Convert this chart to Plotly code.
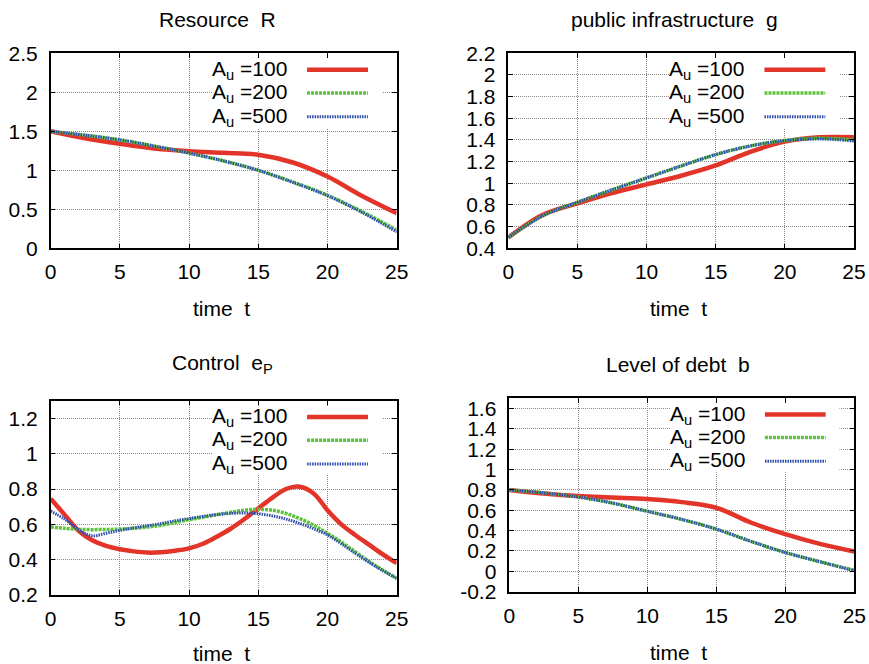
import plotly.graph_objects as go

# ---------------- data ----------------
t_R = [0, 2.5, 5, 7.5, 10, 12.5, 15, 17.5, 20, 22.5, 25]
R_100 = [1.50, 1.41, 1.34, 1.28, 1.245, 1.225, 1.20, 1.10, 0.92, 0.67, 0.45]
R_200 = [1.50, 1.45, 1.39, 1.31, 1.22, 1.12, 1.00, 0.85, 0.68, 0.47, 0.235]
R_500 = [1.50, 1.45, 1.39, 1.31, 1.22, 1.12, 1.00, 0.845, 0.675, 0.46, 0.21]

t_g = [0, 2.5, 5, 7.5, 10, 12.5, 15, 17.5, 20, 22.5, 25]
g_100 = [0.50, 0.71, 0.815, 0.91, 0.99, 1.07, 1.165, 1.29, 1.385, 1.425, 1.425]
g_200 = [0.50, 0.70, 0.825, 0.94, 1.05, 1.16, 1.265, 1.345, 1.395, 1.415, 1.40]
g_500 = [0.50, 0.70, 0.825, 0.94, 1.05, 1.16, 1.265, 1.345, 1.395, 1.41, 1.39]

t_e = list(range(0, 26))
e_100 = [0.745, 0.655, 0.565, 0.51, 0.478, 0.459, 0.447, 0.44, 0.442, 0.451, 0.464,
         0.49, 0.53, 0.575, 0.63, 0.69, 0.75, 0.80, 0.813, 0.775, 0.68,
         0.60, 0.54, 0.485, 0.43, 0.38]
e_200 = [0.585, 0.578, 0.572, 0.57, 0.571, 0.573, 0.578, 0.585, 0.595, 0.61, 0.627,
         0.64, 0.655, 0.668, 0.68, 0.685, 0.68, 0.662, 0.632, 0.595, 0.549,
         0.50, 0.445, 0.39, 0.34, 0.295]
e_500 = [0.675, 0.63, 0.57, 0.535, 0.55, 0.566, 0.58, 0.592, 0.605, 0.62, 0.633,
         0.645, 0.655, 0.662, 0.664, 0.66, 0.648, 0.63, 0.605, 0.575, 0.54,
         0.49, 0.436, 0.385, 0.338, 0.294]

t_b = [0, 2.5, 5, 7.5, 10, 12.5, 15, 17.5, 20, 22.5, 25]
b_100 = [0.80, 0.765, 0.74, 0.725, 0.71, 0.68, 0.625, 0.48, 0.365, 0.27, 0.195]
b_200 = [0.80, 0.77, 0.73, 0.67, 0.59, 0.51, 0.415, 0.295, 0.185, 0.095, 0.01]
b_500 = [0.80, 0.77, 0.73, 0.67, 0.59, 0.51, 0.415, 0.295, 0.185, 0.095, 0.005]

series_names = ["A<sub>u</sub> =100", "A<sub>u</sub> =200", "A<sub>u</sub> =500"]
panel_titles = ["Resource\u00a0\u00a0R", "public infrastructure\u00a0\u00a0g",
                "Control\u00a0\u00a0e<sub>P</sub>", "Level of debt\u00a0\u00a0b"]
xlabel = "time\u00a0\u00a0t"
x_ticks = [0, 5, 10, 15, 20, 25]
b_tickvals = [-0.2, 0, 0.2, 0.4, 0.6, 0.8, 1, 1.2, 1.4, 1.6]
b_ticktext = ["-0.2", "0", "0.2", "0.4", "0.6", "0.8", "1", "1.2", "1.4", "1.6"]

# ---------------- style ----------------
W, H = 869, 664
FONT = "Liberation Sans, Arial, sans-serif"
FS = 21
styles = [
    dict(color="#E3342A", width=4.5, dash="solid"),
    dict(color="#5CC23A", width=3.5, dash="3px,1px"),
    dict(color="#2D4DAF", width=3.0, dash="1.5px,1px"),
]

def px2x(p):
    return p / W

def px2y(p):
    return 1 - p / H

# plot areas in pixels: (left, right, top, bottom)
boxes = [(50.7, 396.7, 53.3, 248.3), (508.3, 854.0, 53.3, 248.3),
         (50.7, 396.7, 400.7, 595.0), (509.3, 854.3, 398.3, 591.7)]
yranges = [[0, 2.5], [0.4, 2.2], [0.2, 1.3], [-0.2, 1.7]]
ydticks = [0.5, 0.2, 0.2, 0.2]

data = [(t_R, [R_100, R_200, R_500]), (t_g, [g_100, g_200, g_500]),
        (t_e, [e_100, e_200, e_500]), (t_b, [b_100, b_200, b_500])]

fig = go.Figure()
layout = dict(width=W, height=H, margin=dict(l=0, r=0, t=0, b=0, autoexpand=False),
              paper_bgcolor="white", plot_bgcolor="white", showlegend=False,
              font=dict(family=FONT, size=FS, color="black"))
shapes = []
annotations = []

title_pos = [(217.2, 19.5), (674.2, 19.5), (222.8, 364.0), (678.0, 364.0)]
xlabel_pos = [(221, 308), (678.3, 308), (221, 653.5), (678.7, 652)]

for i, ((tt, ys), (l, r, tp, bt)) in enumerate(zip(data, boxes)):
    n = i + 1
    xa = "x" if n == 1 else f"x{n}"
    ya = "y" if n == 1 else f"y{n}"
    for s, yv in enumerate(ys):
        fig.add_trace(go.Scatter(x=tt, y=yv, mode="lines", line_shape="spline",
                                 line=styles[s], xaxis=xa, yaxis=ya,
                                 name=series_names[s], hoverinfo="skip"))
    common = dict(showline=True, linecolor="black", linewidth=1.5, mirror="allticks",
                  ticks="inside", ticklen=5, tickwidth=1, tickcolor="black",
                  showgrid=True, gridcolor="#8a8a8a", gridwidth=1, griddash="1px,1px",
                  zeroline=False, automargin=False,
                  tickfont=dict(family=FONT, size=FS, color="black"))
    layout[f"xaxis{n if n > 1 else ''}"] = dict(
        domain=[px2x(l), px2x(r)], range=[0, 25], tickvals=x_ticks,
        anchor=ya, ticklabelstandoff=4, **common)
    yax = dict(domain=[px2y(bt), px2y(tp)], range=yranges[i], anchor=xa,
               ticklabelstandoff=7, **common)
    if i == 3:
        yax.update(tickmode="array", tickvals=b_tickvals, ticktext=b_ticktext)
    else:
        yax.update(dtick=ydticks[i], tick0=0)
    layout[f"yaxis{n if n > 1 else ''}"] = yax

    # key background (hides grid)
    shapes.append(dict(type="rect", xref=f"{xa} domain", yref=f"{ya} domain",
                       x0=0.468, x1=0.957, y0=0.617, y1=0.972, layer="above",
                       fillcolor="white", line=dict(width=0)))
    rows = [0.916, 0.797, 0.674]
    for s in range(3):
        shapes.append(dict(type="line", xref=f"{xa} domain", yref=f"{ya} domain",
                           x0=0.741, x1=0.917, y0=rows[s], y1=rows[s], layer="above",
                           line=dict(color=styles[s]["color"], width=styles[s]["width"],
                                     dash=styles[s]["dash"])))
        annotations.append(dict(text=series_names[s], xref=f"{xa} domain",
                                yref=f"{ya} domain", x=0.688, y=rows[s] + 0.0,
                                xanchor="right", yanchor="middle", showarrow=False,
                                font=dict(family=FONT, size=FS, color="black")))
    # panel title and x-axis label
    annotations.append(dict(text=panel_titles[i], xref="paper", yref="paper",
                            x=px2x(title_pos[i][0]), y=px2y(title_pos[i][1]),
                            xanchor="center", yanchor="middle", showarrow=False,
                            font=dict(family=FONT, size=FS, color="black")))
    annotations.append(dict(text=xlabel, xref="paper", yref="paper",
                            x=px2x(xlabel_pos[i][0]), y=px2y(xlabel_pos[i][1]),
                            xanchor="center", yanchor="middle", showarrow=False,
                            font=dict(family=FONT, size=FS, color="black")))

layout["shapes"] = shapes
layout["annotations"] = annotations
fig.update_layout(**layout)
fig.write_html("out.html")
